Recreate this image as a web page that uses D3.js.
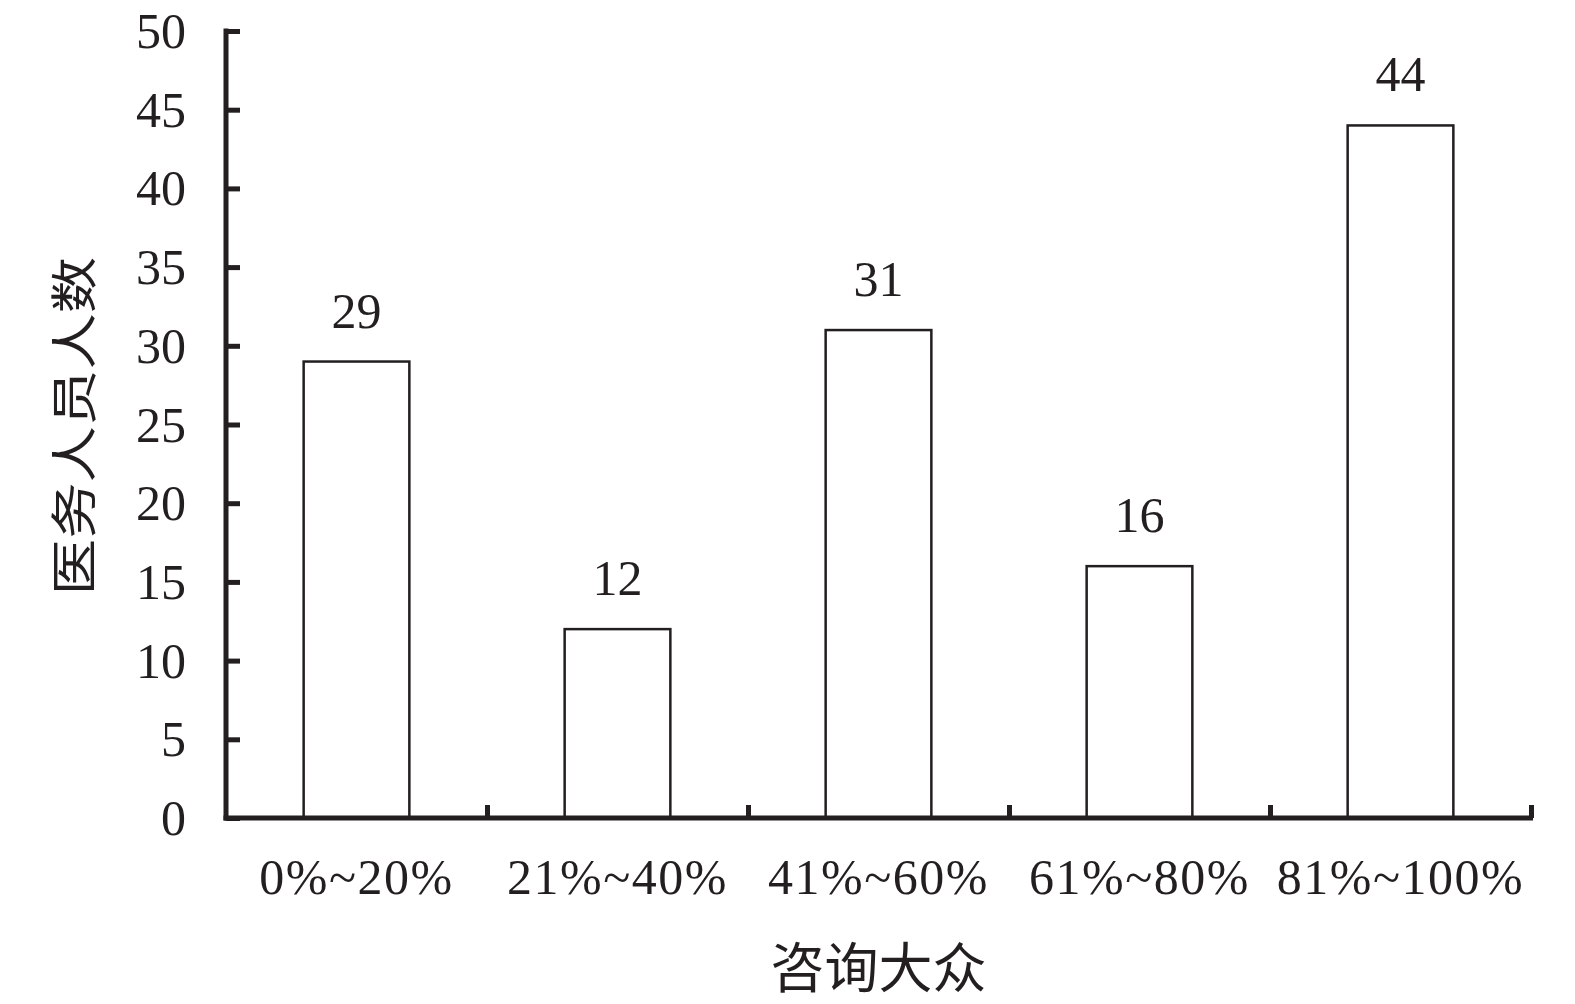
<!DOCTYPE html>
<html><head><meta charset="utf-8">
<script src="https://cdn.jsdelivr.net/npm/d3@7"></script>
<style>
html,body{margin:0;padding:0;background:#fff;}
svg{display:block;}
</style></head>
<body>
<svg id="chart" width="1575" height="1004"></svg>
<script>
const categories = ["0%~20%", "21%~40%", "41%~60%", "61%~80%", "81%~100%"];
const values = [29, 12, 31, 16, 44];
const yTicks = [0, 5, 10, 15, 20, 25, 30, 35, 40, 45, 50];
const xTitle = "咨询大众";
const yTitle = "医务人员人数";

const ink = "#231f20";
const serif = "'Liberation Serif','Times New Roman',serif";
const cjk = "'Noto Sans CJK SC','Noto Sans CJK JP',sans-serif";

const svg = d3.select("#chart");
const x0 = 226, x1 = 1531, yTop = 31, yBot = 818;

const x = d3.scaleBand().domain(categories).range([x0, x1]).padding(0);
const xEdge = d3.scaleLinear().domain([0, categories.length]).range([x0, x1]);
const y = d3.scaleLinear().domain([0, 50]).range([yBot, yTop]);

// bars
const bw = x.bandwidth() * 0.405;
svg.append("g").selectAll("rect").data(values).join("rect")
  .attr("x", (d, i) => x(categories[i]) + x.bandwidth() / 2 - bw / 2)
  .attr("y", d => y(d))
  .attr("width", bw)
  .attr("height", d => y(0) - y(d))
  .attr("fill", "#fff").attr("stroke", ink).attr("stroke-width", 2.5);

// value labels
svg.append("g").selectAll("text").data(values).join("text")
  .attr("x", (d, i) => x(categories[i]) + x.bandwidth() / 2)
  .attr("y", d => y(d) - 34)
  .attr("text-anchor", "middle")
  .attr("font-family", serif).attr("font-size", 50).attr("fill", ink)
  .text(d => d);

// y axis
const yAxis = svg.append("g").attr("transform", `translate(${x0},0)`)
  .call(d3.axisLeft(y).tickValues(yTicks).tickSizeInner(-14).tickSizeOuter(0).tickPadding(40));
yAxis.select(".domain").attr("stroke", ink).attr("stroke-width", 5)
  .attr("d", `M0,${yTop - 2.5}V${yBot + 2.5}`);
yAxis.selectAll(".tick line").attr("stroke", ink).attr("stroke-width", 5);
yAxis.selectAll(".tick text").attr("font-family", serif).attr("font-size", 50)
  .attr("fill", ink).attr("dy", "0.33em");

// x axis line + boundary ticks
const xAxis = svg.append("g").attr("transform", `translate(0,${yBot})`)
  .call(d3.axisBottom(xEdge).tickValues(d3.range(1, categories.length + 1))
    .tickSizeInner(-13).tickSizeOuter(0).tickFormat(""));
xAxis.select(".domain").attr("stroke", ink).attr("stroke-width", 5)
  .attr("d", `M${x0 - 2.5},0H${x1 + 2}`);
xAxis.selectAll(".tick line").attr("stroke", ink).attr("stroke-width", 5);

// category labels
const xLab = svg.append("g").attr("transform", `translate(0,${yBot})`)
  .call(d3.axisBottom(x).tickSize(0).tickPadding(0));
xLab.select(".domain").remove();
xLab.selectAll(".tick text").attr("font-family", serif).attr("font-size", 50)
  .attr("letter-spacing", 1.5)
  .attr("fill", ink).attr("dy", 0).attr("y", 76);

// x title
svg.append("text").attr("x", (x0 + x1) / 2).attr("y", 988)
  .attr("text-anchor", "middle").attr("font-family", cjk).attr("font-size", 54)
  .attr("fill", ink).text(xTitle);

// y title
svg.append("text")
  .attr("transform", `translate(91,${426}) rotate(-90) scale(1.2,1)`)
  .attr("text-anchor", "middle").attr("font-family", cjk).attr("font-size", 47)
  .attr("fill", ink).text(yTitle);
</script>
</body></html>
